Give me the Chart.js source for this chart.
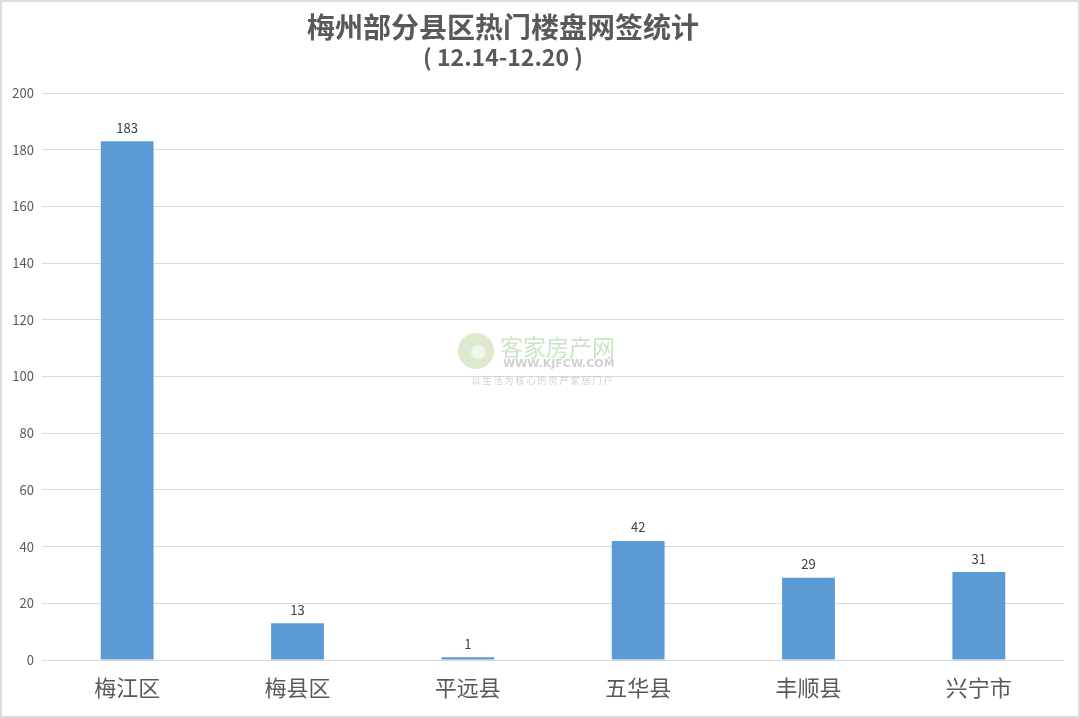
<!DOCTYPE html>
<html>
<head>
<meta charset="utf-8">
<script src="https://cdn.jsdelivr.net/npm/chart.js@4/dist/chart.umd.min.js"></script>
<style>
  html, body { margin: 0; padding: 0; background: #fff; }
  #wrap { width: 1076px; height: 714px; border: 2px solid #dcdcdc; }
</style>
</head>
<body>
<div id="wrap"><canvas id="chart" width="1076" height="714"></canvas></div>
<script>
// data
const districts = ["梅江区", "梅县区", "平远县", "五华县", "丰顺县", "兴宁市"];
const signed = [183, 13, 1, 42, 29, 31];
const yTicks = [0, 20, 40, 60, 80, 100, 120, 140, 160, 180, 200];
const titleText = '梅州部分县区热门楼盘网签统计';
const subtitleText = '( 12.14-12.20 )';

const cjk = '"Noto Sans CJK SC", "Noto Sans", sans-serif';

// title sits a bit left of the canvas centre, so draw it by hand
const titles = {
  id: 'titles',
  afterDraw(chart) {
    const ctx = chart.ctx;
    ctx.save();
    ctx.fillStyle = '#595959';
    ctx.textAlign = 'center';
    ctx.textBaseline = 'middle';
    ctx.font = 'bold 28px ' + cjk;
    ctx.fillText(titleText, 501, 25);
    ctx.font = 'bold 23px ' + cjk;
    ctx.fillText(subtitleText, 501, 55);
    ctx.restore();
  }
};

// value labels above each bar
const barLabels = {
  id: 'barLabels',
  afterDatasetsDraw(chart) {
    const ctx = chart.ctx;
    const meta = chart.getDatasetMeta(0);
    ctx.save();
    ctx.font = '13px ' + cjk;
    ctx.fillStyle = '#404040';
    ctx.textAlign = 'center';
    ctx.textBaseline = 'bottom';
    meta.data.forEach((bar, i) => {
      ctx.fillText(signed[i], bar.x, bar.y - 7);
    });
    ctx.restore();
  }
};

// faint site watermark in the middle
const watermark = {
  id: 'watermark',
  afterDraw(chart) {
    const ctx = chart.ctx;
    ctx.save();
    ctx.globalAlpha = 0.6;
    ctx.beginPath();
    ctx.arc(474, 349, 18, 0, Math.PI * 2);
    ctx.fillStyle = '#c4ddb0';
    ctx.fill();
    ctx.beginPath();
    ctx.arc(476, 350, 7, 0, Math.PI * 2);
    ctx.fillStyle = '#ffffff';
    ctx.fill();
    ctx.fillStyle = '#a3d39c';
    ctx.font = '23px ' + cjk;
    ctx.textAlign = 'left';
    ctx.textBaseline = 'middle';
    ctx.fillText('客家房产网', 498, 345);
    ctx.fillStyle = '#b0b0b0';
    ctx.font = 'bold 11px "DejaVu Sans", sans-serif';
    ctx.fillText('WWW.KJFCW.COM', 501, 362);
    ctx.font = '9px ' + cjk;
    ctx.textAlign = 'center';
    ctx.fillText('以 生 活 为 核 心 的 房 产 家 居 门 户', 540, 379);
    ctx.restore();
  }
};

new Chart(document.getElementById('chart'), {
  type: 'bar',
  data: {
    labels: districts,
    datasets: [{
      label: '网签套数',
      data: signed,
      backgroundColor: '#5b9bd5',
      borderWidth: 0,
      barPercentage: 0.62,
      categoryPercentage: 0.5
    }]
  },
  options: {
    responsive: false,
    animation: false,
    layout: { padding: { left: 0, right: 14, top: 91, bottom: 0 } },
    plugins: {
      legend: { display: false },
      tooltip: { enabled: false },
      title: { display: false }
    },
    scales: {
      x: {
        grid: { display: false },
        border: { display: false },
        ticks: { color: '#595959', font: { family: cjk, size: 22 }, padding: 6 },
        afterFit(scale) { scale.height = 56; }
      },
      y: {
        min: 0,
        max: 200,
        afterBuildTicks(scale) { scale.ticks = yTicks.map(v => ({ value: v })); },
        grid: { color: '#d9d9d9', lineWidth: 1, drawTicks: false },
        border: { display: false },
        ticks: { color: '#595959', font: { family: cjk, size: 13 }, padding: 8 },
        afterFit(scale) { scale.width = 40; }
      }
    }
  },
  plugins: [barLabels, watermark, titles]
});
</script>
</body>
</html>
